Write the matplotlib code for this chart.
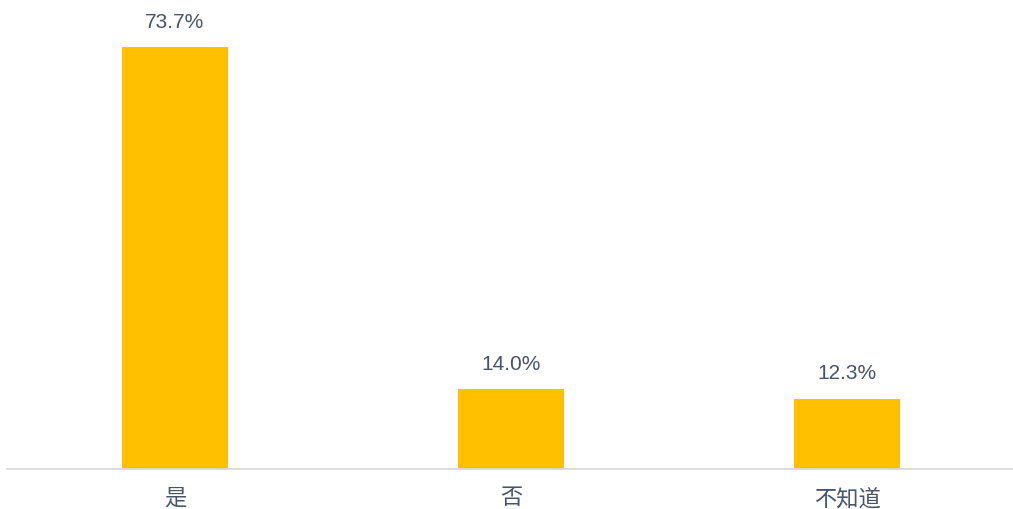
import matplotlib
matplotlib.use("Agg")
import matplotlib.pyplot as plt

categories = ["是", "否", "不知道"]
values = [73.7, 14.0, 12.3]
labels = ["73.7%", "14.0%", "12.3%"]

plt.rcParams['font.family'] = ['Liberation Sans', 'Noto Sans CJK SC', 'DejaVu Sans']

text_color = "#44546A"
bar_color = "#FFC000"

fig = plt.figure(figsize=(10.13, 5.09), dpi=100)
ax = fig.add_axes([7 / 1013, 40 / 509, 1008 / 1013, 469 / 509])

x = range(len(categories))
bars = ax.bar(x, values, width=0.316, color=bar_color)
for b, lab in zip(bars, labels):
    ax.annotate(lab, (b.get_x() + b.get_width() / 2, b.get_height()),
                xytext=(0, 11), textcoords="offset points",
                ha="center", va="bottom", fontsize=15, color=text_color)

ax.set_xlim(-0.5, len(categories) - 0.5)
ax.set_ylim(0, 469 / 5.72)
ax.set_xticks(list(x))
ax.set_xticklabels(categories, fontsize=16, color=text_color)
ax.tick_params(axis="x", length=0, pad=14)
ax.set_yticks([])
for s in ["top", "right", "left"]:
    ax.spines[s].set_visible(False)
ax.spines["bottom"].set_color("#D9D9D9")
ax.spines["bottom"].set_linewidth(1.3)

fig.savefig("out.png", dpi=100)
